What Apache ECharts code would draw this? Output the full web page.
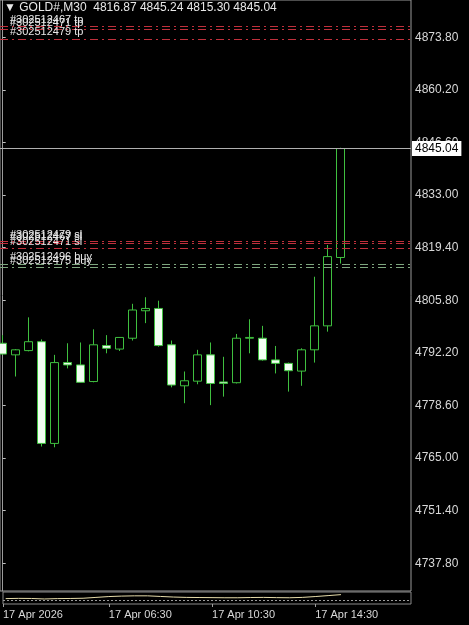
<!DOCTYPE html>
<html><head><meta charset="utf-8">
<script src="https://cdn.jsdelivr.net/npm/echarts@6/dist/echarts.min.js"></script>
<style>html,body{margin:0;padding:0;background:#000;}#c{width:469px;height:625px;}</style>
</head><body><div id="c"></div>
<script>
const symbol = 'GOLD#,M30';
const times = ['02:30','03:00','03:30','04:00','04:30','05:00','05:30','06:00','06:30','07:00','07:30','08:00','08:30','09:00','09:30','10:00','10:30','11:00','11:30','12:00','12:30','13:00','13:30','14:00','14:30','15:00','15:30'];
const opens  = [4794.7,4791.7,4792.8,4795.1,4768.8,4789.7,4789.1,4784.8,4794.1,4793.2,4796.0,4803.1,4803.7,4794.3,4783.7,4784.9,4791.7,4784.7,4784.5,4796.0,4796.0,4790.4,4789.5,4787.5,4793.0,4799.2,4816.87];
const closes = [4791.9,4793.0,4795.1,4768.8,4789.7,4789.1,4784.6,4794.3,4793.4,4796.2,4803.3,4803.7,4794.1,4783.9,4785.0,4791.7,4784.3,4784.3,4796.0,4796.2,4790.4,4789.5,4787.6,4793.0,4799.2,4817.1,4845.04];
const lows   = [4791.8,4786.1,4792.6,4768.0,4767.8,4788.2,4784.5,4784.6,4792.1,4792.7,4795.4,4799.9,4793.8,4783.3,4779.2,4784.1,4778.7,4780.9,4784.3,4792.1,4790.2,4786.9,4782.2,4783.7,4789.7,4797.7,4815.30];
const highs  = [4796.8,4793.2,4801.4,4795.7,4791.7,4794.7,4794.9,4798.3,4796.8,4796.3,4804.9,4806.6,4805.7,4795.4,4787.4,4793.0,4794.9,4791.2,4797.1,4800.9,4799.2,4794.0,4789.7,4793.4,4811.9,4820.1,4845.24];
const priceTicks = [4737.80,4751.40,4765.00,4778.60,4792.20,4805.80,4819.40,4833.00,4846.60,4860.20,4873.80];
const dayLabel = '17 Apr 2026';
const dayName = '17 Apr';
const timeTicks = ['06:30','10:30','14:30'];
const orderLabels = ['#302512467 tp','#302512471 tp','#302512479 tp','#302512479 sl','#302512467 sl','#302512471 sl','#302512496 buy','#302512475 buy'];
const orderPrices = [4876.7,4875.9,4873.4,4821.1,4820.5,4819.3,4815.2,4814.4];
const indicator = [0.45,0.47,0.46,0.42,0.45,0.46,0.48,0.55,0.62,0.66,0.68,0.68,0.63,0.58,0.55,0.54,0.53,0.52,0.52,0.54,0.55,0.53,0.52,0.55,0.62,0.70,0.78];

const last = times.length - 1;
const XMIN = -0.208, XMAX = 31.43;
const YMIN = 4730.65, YMAX = 4883.44;
const FONT = 'Liberation Sans';

const candles = times.map((t, i) => [i, opens[i], closes[i], lows[i], highs[i]]);
const ind = indicator.map((v, i) => [i, v]);
const tickIdx = [XMIN].concat(timeTicks.map(t => times.indexOf(t)));

const orderLines = orderPrices.map((p, i) => {
  const isBuy = /buy$/.test(orderLabels[i]);
  return {
    yAxis: p,
    lineStyle: { color: isBuy ? '#7fa67f' : '#c0303c', width: 1, type: [8, 4, 2, 4] },
    label: { show: true, position: 'insideStartTop', formatter: orderLabels[i], distance: [10, 1],
      color: '#e8e8e8', fontSize: 11, fontFamily: FONT }
  };
});

const chart = echarts.init(document.getElementById('c'), null, { renderer: 'canvas' });
chart.setOption({
  backgroundColor: '#000',
  animation: false,
  title: {
    text: '\u25BC ' + symbol + '  ' + opens[last].toFixed(2) + ' ' + highs[last].toFixed(2) + ' ' + lows[last].toFixed(2) + ' ' + closes[last].toFixed(2),
    left: 4, top: 2, padding: 0,
    textStyle: { color: '#e8e8e8', fontSize: 12, fontWeight: 'normal', fontFamily: FONT }
  },
  grid: [
    { left: 0, right: 58, top: 0, bottom: 34, show: true, borderColor: '#9a9a9a', borderWidth: 1, backgroundColor: 'transparent' },
    { left: 0, right: 58, top: 592, bottom: 21, show: true, borderColor: '#8a8a8a', borderWidth: 1, backgroundColor: 'transparent' }
  ],
  xAxis: [
    { type: 'value', gridIndex: 0, min: XMIN, max: XMAX, show: false },
    { type: 'value', gridIndex: 1, min: XMIN, max: XMAX,
      axisLine: { show: false }, splitLine: { show: false },
      axisTick: { show: true, length: 3, lineStyle: { color: '#a0a0a0' }, customValues: tickIdx },
      axisLabel: { show: true, customValues: tickIdx, align: 'left', margin: 5, color: '#d8d8d8', fontSize: 11, fontFamily: FONT,
        formatter: v => (v === XMIN ? dayLabel : dayName + ' ' + times[Math.round(v)]) } }
  ],
  yAxis: [
    { type: 'value', gridIndex: 0, position: 'right', min: YMIN, max: YMAX, scale: true,
      axisLine: { show: true, lineStyle: { color: '#9a9a9a' } },
      splitLine: { show: false },
      axisTick: { show: true, length: 3, lineStyle: { color: '#c0c0c0' }, customValues: priceTicks },
      axisLabel: { show: true, customValues: priceTicks, margin: 4, color: '#d8d8d8', fontSize: 12, fontFamily: FONT,
        formatter: v => v.toFixed(2) } },
    { type: 'value', gridIndex: 1, position: 'right', min: 0, max: 1, show: false }
  ],
  series: [
    {
      type: 'candlestick', xAxisIndex: 0, yAxisIndex: 0,
      data: candles, encode: { x: 0, y: [1, 2, 3, 4] },
      barWidth: 8,
      itemStyle: { color: '#000000', color0: '#f2fff2', borderColor: '#3fbf3f', borderColor0: '#3fbf3f', borderWidth: 1 },
      markLine: {
        silent: true, symbol: ['none', 'none'], animation: false,
        data: orderLines.concat([{
          yAxis: closes[last],
          lineStyle: { color: '#b0b0b0', width: 1, type: 'solid' },
          label: { show: true, position: 'end', distance: 1, formatter: closes[last].toFixed(2),
            backgroundColor: '#ffffff', color: '#000000', padding: [2, 3, 1, 3], fontSize: 12, fontFamily: FONT }
        }])
      }
    },
    {
      type: 'line', xAxisIndex: 1, yAxisIndex: 1, data: ind, symbol: 'none',
      lineStyle: { color: '#e6dcaa', width: 1 },
      markLine: { silent: true, symbol: ['none', 'none'], label: { show: false },
        lineStyle: { color: '#9a9a9a', type: [2, 2], width: 1 }, data: [{ yAxis: 0.35 }] }
    }
  ]
});
</script></body></html>
